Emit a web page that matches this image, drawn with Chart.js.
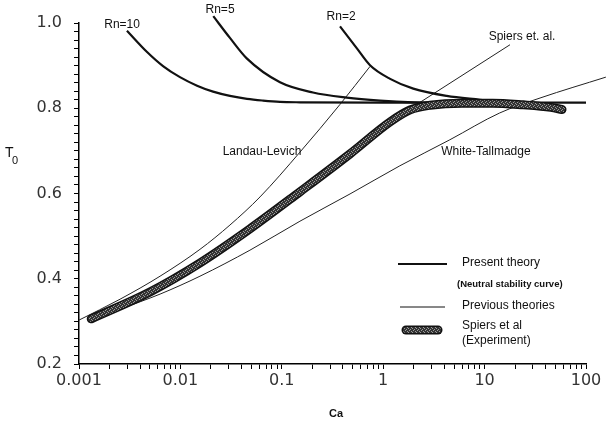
<!DOCTYPE html>
<html lang="en">
<head>
    <meta charset="UTF-8">
    <title>T0 vs Ca</title>
    <script src="https://cdn.jsdelivr.net/npm/chart.js"></script>
    <style>
        body { margin: 0; background: #fff; }
        #wrap { width: 606px; height: 424px; }
    </style>
</head>
<body>
<div id="wrap"><canvas id="chart" width="606" height="424"></canvas></div>

<script>
    // axis ticks
    const xTicks = [0.001, 0.01, 0.1, 1, 10, 100];
    const xTickLabels = ["0.001", "0.01", "0.1", "1", "10", "100"];
    const yTicks = [0.2, 0.4, 0.6, 0.8, 1.0];
    const yTickLabels = ["0.2", "0.4", "0.6", "0.8", "1.0"];

    // present theory (neutral stability curves)
    const rn10Ca = [0.00297, 0.00469, 0.00674, 0.0099, 0.0146, 0.021, 0.0308, 0.0454, 0.0653, 0.096, 0.151, 1, 10, 100];
    const rn10T  = [0.982, 0.932, 0.899, 0.873, 0.853, 0.839, 0.829, 0.822, 0.818, 0.815, 0.814, 0.813, 0.813, 0.813];
    const rn5Ca  = [0.0211, 0.0308, 0.0451, 0.096, 0.203, 0.436, 0.93, 2, 4];
    const rn5T   = [1.016, 0.965, 0.917, 0.861, 0.837, 0.825, 0.818, 0.814, 0.813];
    const rn2Ca  = [0.375, 0.548, 0.741, 1.17, 1.98, 4.23, 9.0, 14, 25];
    const rn2T   = [0.992, 0.941, 0.901, 0.869, 0.846, 0.829, 0.820, 0.815, 0.813];

    // previous theories
    const llCa = [0.001, 0.00254, 0.0063, 0.0156, 0.0308, 0.061, 0.151, 0.375, 0.741];
    const llT  = [0.303, 0.352, 0.406, 0.469, 0.526, 0.592, 0.697, 0.809, 0.898];
    const wtCa = [0.00123, 0.00254, 0.0063, 0.0156, 0.0485, 0.151, 0.471, 1.46, 4.54, 14.1, 35.2, 157];
    const wtT  = [0.303, 0.329, 0.364, 0.406, 0.467, 0.535, 0.599, 0.665, 0.726, 0.789, 0.824, 0.873];
    const spCa = [0.00132, 0.0156, 0.151, 1.17, 2.05, 17.8];
    const spT  = [0.306, 0.437, 0.604, 0.768, 0.806, 0.949];

    // Spiers et al experiment
    const expCa = [0.00132, 0.00501, 0.0156, 0.0485, 0.151, 0.471, 1.17, 1.84, 2.9, 6, 12, 24, 45, 58];
    const expT  = [0.306, 0.369, 0.437, 0.517, 0.604, 0.693, 0.768, 0.796, 0.807, 0.812, 0.812, 0.808, 0.802, 0.797];

    // curve labels
    const noteText = ["Rn=10", "Rn=5", "Rn=2", "Spiers et. al.", "Landau-Levich", "White-Tallmadge"];
    const noteCa   = [0.00266, 0.0246, 0.384, 23.4, 0.0638, 10.3];
    const noteT    = [0.996, 1.031, 1.015, 0.968, 0.698, 0.698];

    const legendText = [["Present theory", "(Neutral stability curve)"], ["Previous theories"], ["Spiers et al", "(Experiment)"]];

    function pts(xs, ys) {
        return xs.map((x, i) => ({ x: x, y: ys[i] }));
    }

    function bandPattern() {
        const c = document.createElement("canvas");
        c.width = 4; c.height = 4;
        const g = c.getContext("2d");
        g.fillStyle = "#333";
        g.fillRect(0, 0, 4, 4);
        g.fillStyle = "#9a9a9a";
        g.fillRect(0, 0, 1, 1);
        g.fillRect(2, 1, 1, 1);
        g.fillRect(1, 2, 1, 1);
        g.fillRect(3, 3, 1, 1);
        return g.createPattern(c, "repeat");
    }
    const bandFill = bandPattern();

    const thick = { borderColor: "#111", borderWidth: 2.2, order: 2 };
    const thin = { borderColor: "#222", borderWidth: 1, order: 3 };

    const notes = {
        id: "notes",
        afterDraw(chart) {
            const ctx = chart.ctx;
            const xs = chart.scales.x, ys = chart.scales.y;
            ctx.save();
            ctx.fillStyle = "#111";
            ctx.textBaseline = "middle";
            ctx.textAlign = "center";
            ctx.font = "12px 'Liberation Sans', Arial, sans-serif";
            noteText.forEach((t, i) => {
                ctx.fillText(t, xs.getPixelForValue(noteCa[i]), ys.getPixelForValue(noteT[i]));
            });

            // axis titles
            ctx.font = "14px 'Liberation Sans', Arial, sans-serif";
            ctx.textAlign = "left";
            ctx.fillText("T", 5, 153);
            ctx.font = "11px 'Liberation Sans', Arial, sans-serif";
            ctx.fillText("0", 12, 161);
            ctx.font = "bold 11px 'Liberation Sans', Arial, sans-serif";
            ctx.textAlign = "center";
            ctx.fillText("Ca", 336, 414);

            // legend
            ctx.lineCap = "butt";
            ctx.strokeStyle = "#111";
            ctx.lineWidth = 2;
            ctx.beginPath(); ctx.moveTo(398, 264); ctx.lineTo(447, 264); ctx.stroke();
            ctx.lineWidth = 1;
            ctx.beginPath(); ctx.moveTo(400, 307); ctx.lineTo(445, 307); ctx.stroke();
            ctx.lineCap = "round";
            ctx.lineWidth = 9;
            ctx.strokeStyle = "#111";
            ctx.beginPath(); ctx.moveTo(406, 330); ctx.lineTo(438, 330); ctx.stroke();
            ctx.lineWidth = 6;
            ctx.strokeStyle = bandFill;
            ctx.beginPath(); ctx.moveTo(406, 330); ctx.lineTo(438, 330); ctx.stroke();

            ctx.textAlign = "left";
            ctx.font = "12px 'Liberation Sans', Arial, sans-serif";
            ctx.fillText(legendText[0][0], 462, 263);
            ctx.fillText(legendText[1][0], 462, 306);
            ctx.fillText(legendText[2][0], 462, 326);
            ctx.fillText(legendText[2][1], 462, 341);
            ctx.font = "bold 9.5px 'Liberation Sans', Arial, sans-serif";
            ctx.fillText(legendText[0][1], 457, 284);
            ctx.restore();
        }
    };

    function findLabel(v, list, labels) {
        for (let i = 0; i < list.length; i++) {
            if (Math.abs(v - list[i]) < list[i] * 1e-6) return labels[i];
        }
        return "";
    }

    new Chart(document.getElementById("chart"), {
        type: "scatter",
        data: {
            datasets: [
                { data: pts(expCa, expT), borderColor: bandFill, borderWidth: 6, borderCapStyle: "round", order: 0 },
                { data: pts(expCa, expT), borderColor: "#111", borderWidth: 9, borderCapStyle: "round", order: 1 },
                Object.assign({ data: pts(rn10Ca, rn10T) }, thick),
                Object.assign({ data: pts(rn5Ca, rn5T) }, thick),
                Object.assign({ data: pts(rn2Ca, rn2T) }, thick),
                Object.assign({ data: pts(llCa, llT) }, thin),
                Object.assign({ data: pts(wtCa, wtT) }, thin),
                Object.assign({ data: pts(spCa, spT), tension: 0, cubicInterpolationMode: "default" }, thin)
            ].map(d => Object.assign({
                showLine: true,
                pointRadius: 0,
                cubicInterpolationMode: "monotone",
                clip: false
            }, d))
        },
        options: {
            responsive: false,
            animation: false,
            events: [],
            layout: { padding: { top: 23, right: 20, left: 0, bottom: 0 } },
            plugins: { legend: { display: false }, tooltip: { enabled: false } },
            scales: {
                x: {
                    type: "logarithmic",
                    min: 0.001,
                    max: 100,
                    afterFit: s => { s.height = 60; },
                    afterBuildTicks: s => {
                        const t = [];
                        xTicks.forEach(d => {
                            for (let k = 1; k <= 9; k++) {
                                if (d * k <= 100 + 1e-9) t.push({ value: d * k, major: k === 1 });
                            }
                        });
                        s.ticks = t;
                    },
                    grid: { drawOnChartArea: false, drawTicks: true, tickLength: 5, color: "#000", tickWidth: 1 },
                    border: { display: true, color: "#000", width: 1.5 },
                    ticks: {
                        autoSkip: false,
                        maxRotation: 0,
                        padding: 2,
                        color: "#333",
                        font: { family: "'DejaVu Sans', sans-serif", size: 16 },
                        callback: v => findLabel(v, xTicks, xTickLabels)
                    }
                },
                y: {
                    min: 0.2,
                    max: 1.0,
                    afterFit: s => { s.width = 79; },
                    afterBuildTicks: s => {
                        const t = [];
                        for (let i = 0; i <= 40; i++) {
                            t.push({ value: Math.round((0.2 + i * 0.02) * 100) / 100 });
                        }
                        s.ticks = t;
                    },
                    grid: { drawOnChartArea: false, drawTicks: true, tickLength: 5, color: "#000", tickWidth: 1 },
                    border: { display: true, color: "#000", width: 1.5 },
                    ticks: {
                        autoSkip: false,
                        padding: 12,
                        color: "#333",
                        font: { family: "'DejaVu Sans', sans-serif", size: 16 },
                        callback: v => findLabel(v, yTicks, yTickLabels)
                    }
                }
            }
        },
        plugins: [notes]
    });
</script>
</body>
</html>
